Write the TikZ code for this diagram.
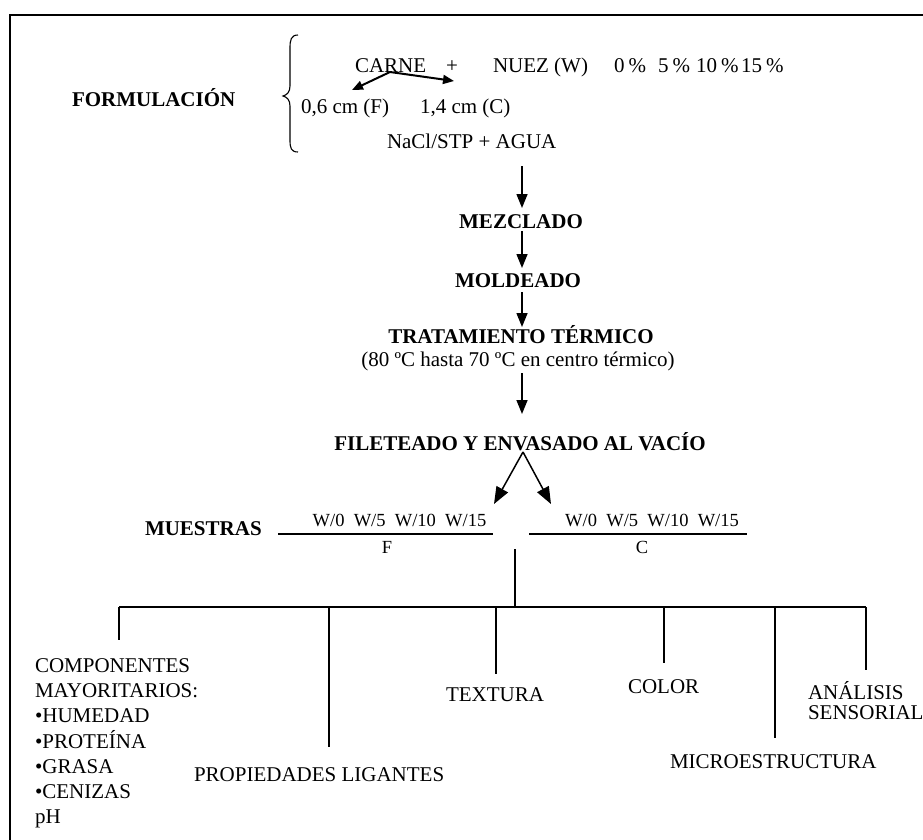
\documentclass[tikz,border=0pt]{standalone}
\usepackage{fontspec}
\setmainfont{Liberation Serif}
\usetikzlibrary{arrows.meta}
\begin{document}
\begin{tikzpicture}[x=1pt,y=-1pt,
  every node/.style={inner sep=0pt, outer sep=0pt},
  bt/.style={font=\fontsize{21}{21}\selectfont\bfseries},
  rt/.style={font=\fontsize{21}{21}\selectfont},
  st/.style={font=\fontsize{18.5}{18.5}\selectfont},
  varr/.style={line width=1.5pt, -{Triangle[length=14pt,width=11pt]}},
  darr/.style={line width=1.5pt, -{Triangle[length=17pt,width=13pt]}},
  carr/.style={line width=2pt, -{Triangle[length=11pt,width=9pt]}},
  conn/.style={line width=1.3pt},
  frame/.style={line width=2pt}
]
\useasboundingbox (0,0) rectangle (923,839);
% frame (right and bottom sides fall outside the picture)
\coordinate (fbl) at (10,860);
\coordinate (ftl) at (10,15);
\coordinate (ftr) at (940,15);
\draw[frame] (fbl) -- (ftl) -- (ftr);

% formulation
\node[bt, anchor=base west] (form) at (72,106) {FORMULACIÓN};
\draw[line width=1.1pt] (298,35) .. controls (291,35) and (290,40) .. (290,48) -- (290,86)
  .. controls (290,92) and (287,95) .. (283,96) .. controls (287,97) and (290,100) .. (290,106)
  -- (290,140) .. controls (290,148) and (291,152) .. (298,152);
\node[rt, anchor=base west] (carne) at (355,72) {CARNE};
\node[rt, anchor=base] (plus) at (452,72) {+};
\node[rt, anchor=base west] (nuez) at (493,72) {NUEZ (W)};
\node[rt, anchor=base west] (p0) at (614,72) {0\hspace{0.2em}\%};
\node[rt, anchor=base west] (p5) at (658,72) {5\hspace{0.2em}\%};
\node[rt, anchor=base west] (p10) at (696,72) {10\hspace{0.2em}\%};
\node[rt, anchor=base west] (p15) at (741,72) {15\hspace{0.2em}\%};
\node[rt, anchor=base west] (fino) at (301,113) {0,6 cm (F)};
\node[rt, anchor=base west] (grueso) at (420,113) {1,4 cm (C)};
\node[rt, anchor=base west] (nacl) at (387,148) {NaCl/STP + AGUA};
\coordinate (cs) at (390,72);
\coordinate (cl) at (352,90);
\coordinate (cr) at (454,81);
\draw[carr] (cs) -- (cl);
\draw[carr] (cs) -- (cr);

% process steps
\node[bt, anchor=base] (mez) at (521,228) {MEZCLADO};
\node[bt, anchor=base] (mol) at (518,287) {MOLDEADO};
\node[bt, anchor=base] (trat) at (521,343) {TRATAMIENTO TÉRMICO};
\node[rt, anchor=base] (temp) at (518,366) {(80 ºC hasta 70 ºC en centro térmico)};
\node[bt, anchor=base] (fil) at (520,450) {FILETEADO Y ENVASADO AL VACÍO};

\coordinate (a1s) at (522,166);
\coordinate (a1e) at (522,208);
\coordinate (a2s) at (522,231);
\coordinate (a2e) at (522,268);
\coordinate (a3s) at (522,292);
\coordinate (a3e) at (522,327);
\coordinate (a4s) at (522,373);
\coordinate (a4e) at (522,414);
\draw[varr] (a1s) -- (a1e);
\draw[varr] (a2s) -- (a2e);
\draw[varr] (a3s) -- (a3e);
\draw[varr] (a4s) -- (a4e);

% samples
\coordinate (apex) at (523,452);
\coordinate (tipl) at (494,504);
\coordinate (tipr) at (551,504);
\draw[darr] (apex) -- (tipl);
\draw[darr] (apex) -- (tipr);
\node[bt, anchor=base west] (mue) at (145,535) {MUESTRAS};
\node[st, anchor=base] (wl) at (399.5,526) {W/0\ \ W/5\ \ W/10\ \ W/15};
\node[st, anchor=base] (fl) at (387,553) {F};
\node[st, anchor=base] (wr) at (652,526) {W/0\ \ W/5\ \ W/10\ \ W/15};
\node[st, anchor=base] (cl2) at (642,553) {C};
\coordinate (ll1) at (278,534);
\coordinate (ll2) at (493,534);
\coordinate (rl1) at (529,534);
\coordinate (rl2) at (747,534);
\draw[conn] (ll1) -- (ll2);
\draw[conn] (rl1) -- (rl2);

% tree
\coordinate (vt) at (515,549);
\coordinate (vb) at (515,607);
\draw[line width=1.8pt] (vt) -- (vb);
\coordinate (b1) at (119,607);
\coordinate (b2) at (329,607);
\coordinate (b3) at (496,607);
\coordinate (b4) at (664,607);
\coordinate (b5) at (775,607);
\coordinate (b6) at (866,607);
\draw[conn] (b1) -- (b6);
\coordinate (e1) at (119,640);
\coordinate (e2) at (329,747);
\coordinate (e3) at (496,674);
\coordinate (e4) at (664,663);
\coordinate (e5) at (775,738);
\coordinate (e6) at (866,670);
\draw[conn] (b1) -- (e1);
\draw[conn] (b2) -- (e2);
\draw[conn] (b3) -- (e3);
\draw[conn] (b4) -- (e4);
\draw[conn] (b5) -- (e5);
\draw[conn] (b6) -- (e6);

% results
\node[rt, anchor=base west] (comp1) at (35,672) {COMPONENTES};
\node[rt, anchor=base west] (comp2) at (35,697) {MAYORITARIOS:};
\node[rt, anchor=base west] (comp3) at (35,722) {•HUMEDAD};
\node[rt, anchor=base west] (comp4) at (35,748) {•PROTEÍNA};
\node[rt, anchor=base west] (comp5) at (35,773) {•GRASA};
\node[rt, anchor=base west] (comp6) at (35,798) {•CENIZAS};
\node[rt, anchor=base west] (comp7) at (35,823) {pH};
\node[rt, anchor=base west] (lig) at (194,781) {PROPIEDADES LIGANTES};
\node[rt, anchor=base west] (tex) at (446,701) {TEXTURA};
\node[rt, anchor=base west] (col) at (628,693) {COLOR};
\node[rt, anchor=base west] (micro) at (670,768) {MICROESTRUCTURA};
\node[rt, anchor=base west] (ana1) at (808,699) {ANÁLISIS};
\node[rt, anchor=base west] (ana2) at (808,719) {SENSORIAL};
\end{tikzpicture}
\end{document}
